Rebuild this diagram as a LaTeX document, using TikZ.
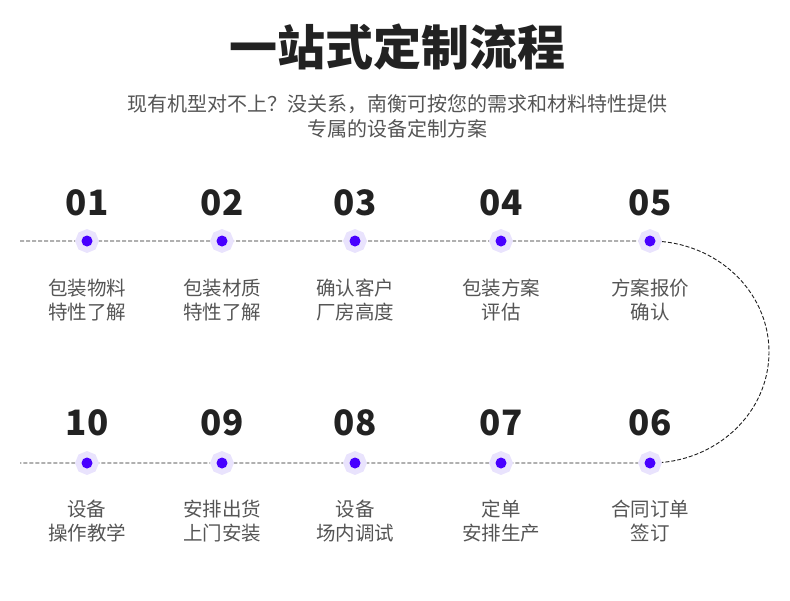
\documentclass[tikz,border=0pt]{standalone}
\usepackage{fontspec}
\setmainfont{Noto Sans CJK SC}
\usetikzlibrary{positioning,backgrounds}
\definecolor{dotblue}{RGB}{72,0,255}
\definecolor{halo}{RGB}{233,227,253}
\definecolor{textgray}{RGB}{85,85,85}
\definecolor{inkdark}{RGB}{34,34,34}

\begin{document}
\begin{tikzpicture}[x=1pt,y=1pt,
        stepdot/.style={
            circle, inner sep=0pt, minimum size=11pt, fill=dotblue,
            preaction={draw=halo, line width=12pt}
        },
        stepnum/.style={
            anchor=base, inner sep=0pt, color=inkdark,
            font=\fontsize{35}{40}\selectfont\bfseries
        },
        steptext/.style={
            anchor=base, inner sep=0pt, align=center, color=textgray,
            font=\fontsize{19.5}{24}\selectfont
        },
        flow/.style={
            dash pattern=on 4pt off 2pt, line width=0.9pt, color=black!88
        },
    ]
    \useasboundingbox (0,0) rectangle (790,-600);

    \node (title) [color=inkdark, font=\fontsize{48}{52}\selectfont\bfseries] at (397,-47) {一站式定制流程};
    \node (intro) [color=textgray, align=center, font=\fontsize{20}{25}\selectfont] at (397,-116) {现有机型对不上？没关系，南衡可按您的需求和材料特性提供\\专属的设备定制方案};

    % upper row
    \node (d01) [stepdot] at (87,-241) {};
    \node (d02) [stepdot] at (222,-241) {};
    \node (d03) [stepdot] at (355,-241) {};
    \node (d04) [stepdot] at (501,-241) {};
    \node (d05) [stepdot] at (650,-241) {};

    % lower row
    \node (d06) [stepdot] at (650,-463) {};
    \node (d07) [stepdot] at (501,-463) {};
    \node (d08) [stepdot] at (355,-463) {};
    \node (d09) [stepdot] at (222,-463) {};
    \node (d10) [stepdot] at (87,-463) {};

    \node (n01) [above=26pt of d01.center, stepnum] {01};
    \node (n02) [above=26pt of d02.center, stepnum] {02};
    \node (n03) [above=26pt of d03.center, stepnum] {03};
    \node (n04) [above=26pt of d04.center, stepnum] {04};
    \node (n05) [above=26pt of d05.center, stepnum] {05};
    \node (n06) [above=28pt of d06.center, stepnum] {06};
    \node (n07) [above=28pt of d07.center, stepnum] {07};
    \node (n08) [above=28pt of d08.center, stepnum] {08};
    \node (n09) [above=28pt of d09.center, stepnum] {09};
    \node (n10) [above=28pt of d10.center, stepnum] {10};

    \node (t01) [below=78pt of d01.center, steptext] {包装物料\\特性了解};
    \node (t02) [below=78pt of d02.center, steptext] {包装材质\\特性了解};
    \node (t03) [below=78pt of d03.center, steptext] {确认客户\\厂房高度};
    \node (t04) [below=78pt of d04.center, steptext] {包装方案\\评估};
    \node (t05) [below=78pt of d05.center, steptext] {方案报价\\确认};
    \node (t06) [below=77pt of d06.center, steptext] {合同订单\\签订};
    \node (t07) [below=77pt of d07.center, steptext] {定单\\安排生产};
    \node (t08) [below=77pt of d08.center, steptext] {设备\\场内调试};
    \node (t09) [below=77pt of d09.center, steptext] {安排出货\\上门安装};
    \node (t10) [below=77pt of d10.center, steptext] {设备\\操作教学};

    \coordinate (lineTop) at (20,-241);
    \coordinate (lineBottom) at (20,-463);
    \begin{scope}[on background layer]
        \draw[flow] (lineTop) -- (d05.center)
            arc[start angle=90, end angle=-90, x radius=119, y radius=111]
            -- (lineBottom);
    \end{scope}
\end{tikzpicture}
\end{document}
